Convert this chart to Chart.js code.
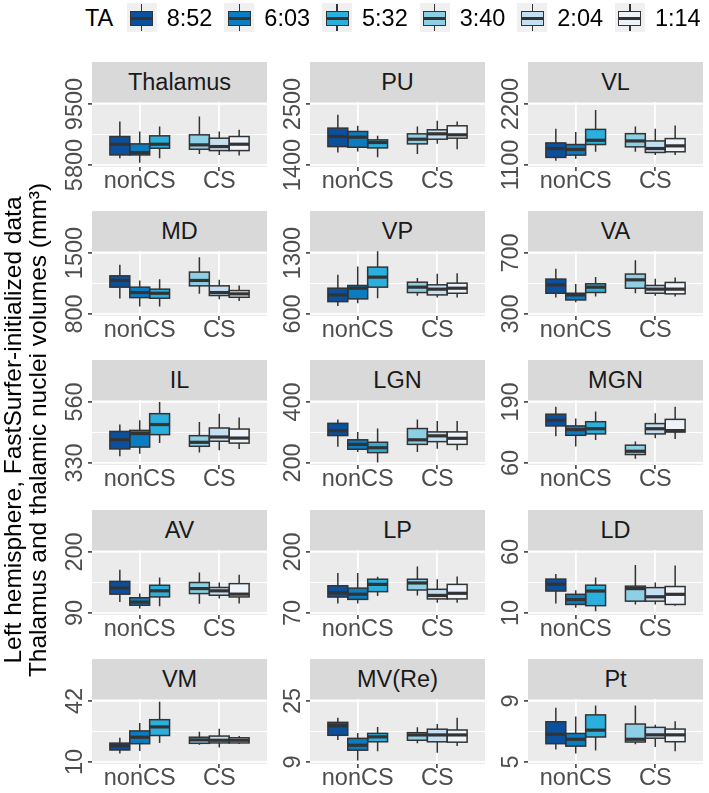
<!DOCTYPE html>
<html>
<head>
<meta charset="utf-8">
<title>Thalamic nuclei volumes</title>
<script src="https://cdn.jsdelivr.net/npm/chart.js@4.4.1/dist/chart.umd.min.js"></script>
<style>
  html, body { margin:0; padding:0; background:#ffffff; }
  #root { position:relative; width:709px; height:793px; overflow:hidden; font-family:'Liberation Sans', Arial, Helvetica, sans-serif; }
  #root canvas { position:absolute; }
  .strip { position:absolute; height:40px; line-height:40px; background:#D9D9D9; color:#1A1A1A; font-size:23.5px; text-align:center; white-space:nowrap; }
  .leg-title, .leg-label { position:absolute; top:0; height:36px; line-height:36px; font-size:23.5px; color:#000; white-space:nowrap; }
  .key { position:absolute; top:3px; width:30px; height:29px; background:#F0F0F0; }
  .key .wh { position:absolute; left:14.25px; width:1.5px; background:#333; }
  .key .bx { position:absolute; left:3.5px; top:8px; width:23px; height:15px; box-sizing:border-box; border:1.5px solid #333; }
  .key .md { position:absolute; left:3.5px; top:14px; width:23px; height:3px; background:#333; }
  .ytitle { position:absolute; width:600px; height:50px; left:-275px; top:405px; transform:rotate(-90deg); font-size:24.5px; line-height:25px; text-align:center; color:#000; white-space:pre; }
</style>
</head>
<body>
<div id="root"></div>
<script>
// ---------------- data ----------------
const nuclei = ['Thalamus','PU','VL','MD','VP','VA','IL','LGN','MGN','AV','LP','LD','VM','MV(Re)','Pt'];
const groups = ['nonCS','CS'];
const taLabels = ['8:52','6:03','5:32','3:40','2:04','1:14'];
const taGroup = [0,0,0,1,1,1];           // index into groups
const taColors = ['#0B509C','#0A7CC2','#2BB0DE','#8DCFE5','#C4DEF2','#EEF3FA'];

// y-axis tick labels (lower, upper) per nucleus
const yTicks = [[5800,9500],[1400,2500],[1100,2200],[800,1500],[600,1300],[300,700],
                [330,560],[200,400],[60,190],[90,200],[70,200],[10,60],[10,42],[9,25],[5,9]];

// box statistics per TA group: [min, q1, median, q3, max]
const thalamus = [[6207,6410,7060,7528,8443],[5942,6410,6552,7081,7833],[6207,6816,7060,7569,8138],
                  [6471,6755,7020,7630,8748],[6410,6674,6918,7426,7833],[6369,6674,7060,7528,7935]];
const pu  = [[1624,1732,1914,2065,2307],[1642,1720,1902,2004,2107],[1539,1708,1805,1853,1926],
             [1599,1781,1865,1962,2095],[1781,1865,1962,2035,2198],[1684,1884,1944,2107,2186]];
const vl  = [[1177,1237,1397,1498,1754],[1213,1278,1379,1469,1695],[1338,1469,1546,1742,2093],
             [1338,1427,1534,1665,1796],[1278,1326,1397,1534,1754],[1278,1338,1445,1576,1814]];
const md  = [[977,1108,1185,1238,1365],[885,988,1046,1108,1185],[885,981,1038,1085,1200],
             [1031,1123,1185,1281,1450],[969,1012,1046,1123,1192],[950,992,1031,1069,1127]];
const vp  = [[692,742,819,896,1050],[723,773,896,927,1146],[781,908,1023,1138,1320],
             [808,846,908,965,1012],[788,819,885,935,1062],[788,838,896,954,1069]];
const va  = [[408,436,491,529,597],[377,392,425,436,496],[414,441,476,498,542],
             [436,469,524,562,652],[419,436,463,487,531],[414,432,463,507,540]];
const il  = [[355,383,418,449,475],[365,390,441,453,491],[405,437,475,516,560],
             [370,393,408,433,485],[378,412,428,462,516],[383,405,424,458,502]];
const lgn = [[253,290,306,330,343],[236,245,261,276,302],[202,234,250,268,313],
             [236,261,276,313,343],[247,270,289,302,338],[242,261,281,302,338]];
const mgn = [[117,139,151,164,180],[95,119,131,139,155],[109,122,133,148,170],
             [69,78,85,98,106],[113,122,133,144,166],[111,126,129,153,180]];
const av  = [[110,124,135,147,168],[98,104,109.6,117.5,125],[102,119,130,140,154],
             [106.5,125,134,145,163],[116,122,130,136,145],[107,119,124,143,159]];
const lp  = [[90,104,113,128,155],[90,99,110,123,155],[106,115.5,131,142,147],
             [107.5,119,134,142,169],[92,100,107.5,120.5,142],[92,100,112,131,148]];
const ld  = [[17.8,28,33.6,37.8,42],[14.2,17,21,25.3,28.6],[11.4,16,28,32.8,39],
             [17,19.7,30,32,49.4],[17,19.7,23.3,30.8,35],[16,17,25.3,31.7,48.9]];
const vm  = [[14.5,16.3,18.5,19.9,22.7],[15.8,19.6,23,26.3,30.4],[19.9,23.9,28.4,32.2,41.6],
             [19,19.8,21.6,23,25.9],[17.6,20,21.4,23.6,27.5],[19.4,20,21.4,22.7,23.6]];
const mv  = [[14.8,16,18.5,19.4,20.6],[9.4,12.1,13.4,15.2,16.6],[11.8,14.3,15.6,16.5,18.2],
             [13.9,14.7,16.1,16.7,18.1],[11.4,14.3,16.1,17.6,19],[13.2,14.2,16.1,17.4,20.6]];
const pt  = [[5.82,6.2,6.82,7.64,8.56],[5.56,6.04,6.49,6.87,7.98],[5.76,6.64,7.09,8.09,8.71],
             [6.16,6.31,6.49,7.49,8.71],[5.98,6.56,6.78,7.27,7.44],[5.71,6.33,6.78,7.16,7.67]];
const nucleusStats = [thalamus,pu,vl,md,vp,va,il,lgn,mgn,av,lp,ld,vm,mv,pt];

// ---------------- layout ----------------
const FONT = "'Liberation Sans', Arial, Helvetica, sans-serif";
const TICK_FS = 23.5;
const PANEL_W = 175, PANEL_H = 65, STRIP_H = 40;
const YW = 50, PT = 32, PR = 4, XH = 32;
const EXP = 0.033;            // y expansion beyond the tick range
const LABEL_OFF = 16;         // panel-left to y-label centre
const colLeft = [92, 310, 528];
const rowTop = [62, 211, 360, 510, 659];

Chart.defaults.font.family = FONT;
const root = document.getElementById('root');
const measure = document.createElement('canvas').getContext('2d');
measure.font = TICK_FS + 'px ' + FONT;

const bgPlugin = {
  id: 'panelBg',
  beforeDraw(chart) {
    const a = chart.chartArea, c = chart.ctx;
    c.save(); c.fillStyle = '#EBEBEB';
    c.fillRect(a.left, a.top, a.right - a.left, a.bottom - a.top);
    c.restore();
  }
};

function makeBoxPlugin(st) {
  return {
    id: 'boxWhisk',
    afterDatasetsDraw(chart) {
      const c = chart.ctx, ys = chart.scales.y;
      const py = v => ys.getPixelForValue(v);
      chart.data.datasets.forEach((ds, d) => {
        const meta = chart.getDatasetMeta(d);
        meta.data.forEach((el, i) => {
          if (ds.data[i].y == null) return;
          const s = st[d];
          const p = el.getProps(['x', 'width'], true);
          const l = p.x - p.width / 2, r = p.x + p.width / 2;
          c.save();
          c.strokeStyle = '#333333';
          c.lineWidth = 1.5;
          c.beginPath();
          c.moveTo(p.x, py(s[4])); c.lineTo(p.x, py(s[3]));
          c.moveTo(p.x, py(s[1])); c.lineTo(p.x, py(s[0]));
          c.stroke();
          c.strokeRect(l, py(s[3]), r - l, py(s[1]) - py(s[3]));
          c.lineWidth = 3.2;
          c.beginPath();
          c.moveTo(l, py(s[2])); c.lineTo(r, py(s[2]));
          c.stroke();
          c.restore();
        });
      });
    }
  };
}

nuclei.forEach((name, k) => {
  const col = k % 3, row = Math.floor(k / 3);
  const px = colLeft[col], sy = rowTop[row], py0 = sy + STRIP_H;
  const st = nucleusStats[k];
  const [lo, hi] = yTicks[k];
  const span = hi - lo;

  const cv = document.createElement('canvas');
  cv.width = YW + PANEL_W + PR;
  cv.height = PT + PANEL_H + XH;
  cv.style.left = (px - YW) + 'px';
  cv.style.top = (py0 - PT) + 'px';
  root.appendChild(cv);

  const strip = document.createElement('div');
  strip.className = 'strip';
  strip.style.left = px + 'px';
  strip.style.top = sy + 'px';
  strip.style.width = PANEL_W + 'px';
  strip.textContent = name;
  root.appendChild(strip);

  const widest = Math.max(measure.measureText(String(lo)).width, measure.measureText(String(hi)).width);

  new Chart(cv, {
    type: 'bar',
    data: {
      datasets: taLabels.map((lab, d) => ({
        label: lab,
        data: groups.map((g, gi) => ({ x: gi + 1, y: taGroup[d] === gi ? [st[d][1], st[d][3]] : null })),
        backgroundColor: taColors[d],
        borderWidth: 0,
        skipNull: true,
        categoryPercentage: 0.75,
        barPercentage: 1
      }))
    },
    options: {
      responsive: false,
      animation: false,
      events: [],
      layout: { padding: { top: PT, right: PR, left: 0, bottom: 0 } },
      plugins: { legend: { display: false }, tooltip: { enabled: false }, title: { display: false } },
      scales: {
        x: {
          type: 'linear', min: 0.4, max: 2.6, stacked: false, offset: false,
          afterBuildTicks: s => { s.ticks = [{ value: 1 }, { value: 2 }]; },
          afterFit: s => { s.height = XH; s.paddingLeft = 0; s.paddingRight = 0; },
          grid: { offset: false, color: '#FFFFFF', lineWidth: 1.8, drawTicks: true, tickLength: 4, tickColor: '#333333', tickWidth: 1.5 },
          border: { display: false },
          ticks: { callback: v => groups[v - 1], color: '#4D4D4D', font: { size: TICK_FS }, padding: -4, maxRotation: 0, autoSkip: false }
        },
        y: {
          type: 'linear', min: lo - EXP * span, max: hi + EXP * span,
          afterBuildTicks: s => { s.ticks = [{ value: lo }, { value: (lo + hi) / 2 }, { value: hi }]; },
          afterFit: s => { s.width = YW; s.paddingTop = 0; s.paddingBottom = 0; },
          grid: {
            offset: false,
            color: '#FFFFFF',
            lineWidth: c => (c.index === 1 ? 1 : 1.8),
            tickLength: 4,
            tickColor: c => (c.index === 1 ? 'rgba(0,0,0,0)' : '#333333'),
            tickWidth: 1.5
          },
          border: { display: false },
          ticks: {
            autoSkip: false, minRotation: 90, maxRotation: 90, crossAlign: 'center',
            padding: LABEL_OFF - 4 - widest / 2,
            color: '#4D4D4D', font: { size: TICK_FS },
            callback: (v, i) => (i === 1 ? '' : String(v))
          }
        }
      }
    },
    plugins: [bgPlugin, makeBoxPlugin(st)]
  });
});

// ---------------- legend ----------------
const legTitle = document.createElement('div');
legTitle.className = 'leg-title';
legTitle.style.left = '85px';
legTitle.textContent = 'TA';
root.appendChild(legTitle);
taLabels.forEach((lab, d) => {
  const kx = 126.7 + d * 97.65;
  const key = document.createElement('div');
  key.className = 'key';
  key.style.left = kx + 'px';
  key.innerHTML = '<div class="wh" style="top:1px;height:8px"></div>' +
                  '<div class="wh" style="top:22px;height:6px"></div>' +
                  '<div class="bx" style="background:' + taColors[d] + '"></div>' +
                  '<div class="md"></div>';
  root.appendChild(key);
  const t = document.createElement('div');
  t.className = 'leg-label';
  t.style.left = (kx + 40) + 'px';
  t.textContent = lab;
  root.appendChild(t);
});

// ---------------- y-axis title ----------------
const yt = document.createElement('div');
yt.className = 'ytitle';
yt.textContent = 'Left hemisphere, FastSurfer-initialized data\nThalamus and thalamic nuclei volumes (mm\u00B3)';
root.appendChild(yt);
</script>
</body>
</html>
